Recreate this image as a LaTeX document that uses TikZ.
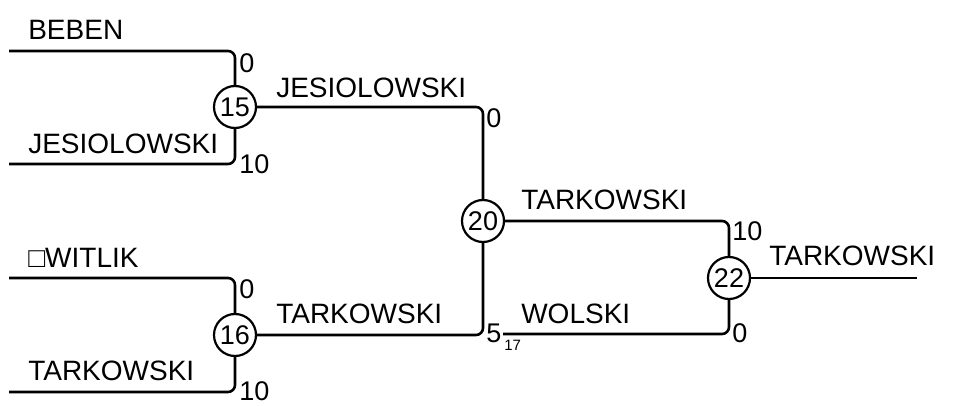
\documentclass[tikz,border=0pt]{standalone}
\usepackage{fontspec}
\setmainfont{Liberation Sans}
\begin{document}
\begin{tikzpicture}[x=1pt,y=-1pt,
  line width=2.6pt,
  matchbox/.style={circle,draw,line width=2.2pt,minimum size=42pt,inner sep=0pt,font=\fontsize{27}{27}\selectfont},
  pname/.style={anchor=west,inner sep=0pt,font=\fontsize{28}{28}\selectfont},
  pscore/.style={anchor=west,inner sep=0pt,font=\fontsize{27}{27}\selectfont},
  psub/.style={anchor=west,inner sep=0pt,font=\fontsize{15}{15}\selectfont},
  wire/.style={rounded corners=7pt}]
\useasboundingbox (0,0) rectangle (958,406);
% matches
\node[matchbox] (c15) at (235,107) {15};
\node[matchbox] (c16) at (235,335) {16};
\node[matchbox] (c20) at (483,221) {20};
\node[matchbox] (c22) at (729,278) {22};
% free ends
\coordinate (a1) at (9,51);
\coordinate (a2) at (9,164);
\coordinate (b1) at (9,278);
\coordinate (b2) at (9,392);
\coordinate (w1) at (503,334);
\coordinate (fin) at (917,278);
% wires
\draw[wire] (a1) -| (c15);
\draw[wire] (a2) -| (c15);
\draw[wire] (b1) -| (c16);
\draw[wire] (b2) -| (c16);
\draw[wire] (c15) -| (c20);
\draw[wire] (c16) -| (c20);
\draw[wire] (c20) -| (c22);
\draw[wire] (w1) -| (c22);
\draw (c22) -- (fin);
% names
\node[pname] (n1) at (27,30) {BEBEN};
\node[pname] (n2) at (27,144) {JESIOLOWSKI};
\node[pname] (n3) at (27,258) {□WITLIK};
\node[pname] (n4) at (27,371) {TARKOWSKI};
\node[pname] (n5) at (275,88) {JESIOLOWSKI};
\node[pname] (n6) at (275,314) {TARKOWSKI};
\node[pname] (n7) at (520,200) {TARKOWSKI};
\node[pname] (n8) at (520,314) {WOLSKI};
\node[pname] (n9) at (768,256) {TARKOWSKI};
% scores
\node[pscore] (s1) at (238,63) {0};
\node[pscore] (s2) at (238,164) {10};
\node[pscore] (s3) at (238,289) {0};
\node[pscore] (s4) at (238,391) {10};
\node[pscore] (s5) at (485,118) {0};
\node[pscore] (s6) at (485,333) {5};
\node[psub] (s6b) at (503,345) {17};
\node[pscore] (s7) at (731,231) {10};
\node[pscore] (s8) at (731,333) {0};
\end{tikzpicture}
\end{document}
